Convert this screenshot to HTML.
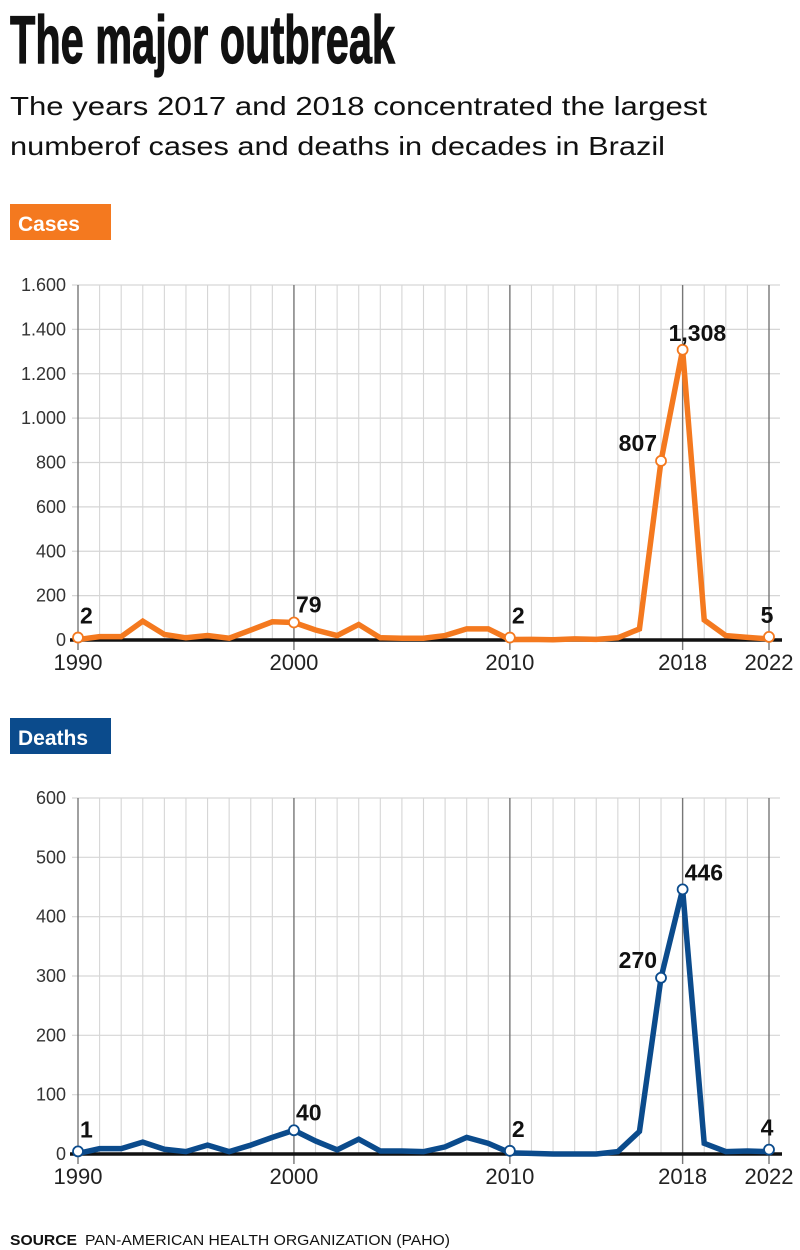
<!DOCTYPE html>
<html><head><meta charset="utf-8"><style>
html,body{margin:0;padding:0;background:#fff;}
svg{display:block;font-family:"Liberation Sans",sans-serif;}
</style></head><body>
<svg id="root" width="800" height="1250" viewBox="0 0 800 1250">
<text x="10" y="63" font-family="Liberation Sans Narrow, Liberation Sans, sans-serif" font-weight="bold" font-size="68" textLength="385" lengthAdjust="spacingAndGlyphs" fill="#111" stroke="#111" stroke-width="1.2">The major outbreak</text>
<text x="10" y="115" font-size="26" fill="#111" textLength="697" lengthAdjust="spacingAndGlyphs">The years 2017 and 2018 concentrated the largest</text>
<text x="10" y="155" font-size="26" fill="#111" textLength="655" lengthAdjust="spacingAndGlyphs">numberof cases and deaths in decades in Brazil</text>
<g id="c1"></g>
<g id="c2"></g>
<text x="10" y="1245" font-size="15" font-weight="bold" fill="#111" textLength="67" lengthAdjust="spacingAndGlyphs">SOURCE</text>
<text x="85" y="1245" font-size="15" fill="#111" textLength="365" lengthAdjust="spacingAndGlyphs">PAN-AMERICAN HEALTH ORGANIZATION (PAHO)</text>
</svg>
<script>
const years = [];
for (let y = 1990; y <= 2022; y++) years.push(y);
const casesValues = [2,15,15,85,25,10,20,8,45,82,79,45,20,70,10,8,8,20,50,50,2,3,1,5,3,10,50,807,1308,90,20,12,5];
const deathsValues = [1,9,9,20,8,4,15,4,15,28,40,22,7,25,5,5,4,12,28,18,2,1,0,0,0,4,38,297,446,18,4,5,4];
const xTickYears = [1990,2000,2010,2018,2022];
const casesTicks = [0,200,400,600,800,1000,1200,1400,1600];
const casesTickLabels = ["0","200","400","600","800","1.000","1.200","1.400","1.600"];
const deathsTicks = [0,100,200,300,400,500,600];
const casesAnnYears = [1990,2000,2010,2017,2018,2022];
const casesAnnLabels = ["2","79","2","807","1,308","5"];
const deathsAnnYears = [1990,2000,2010,2017,2018,2022];
const deathsAnnLabels = ["1","40","2","270","446","4"];
</script>
<script>
const NS = "http://www.w3.org/2000/svg";
function mk(parent, tag, attrs, text){
  const e = document.createElementNS(NS, tag);
  for (const k in attrs) e.setAttribute(k, attrs[k]);
  if (text !== undefined) e.textContent = text;
  parent.appendChild(e); return e;
}
function xs(y){ return 78 + (y - 1990) * (769 - 78) / 32; }
function build(g, opt){
  const ys = v => opt.base - v * (opt.base - opt.top) / opt.max;
  const b = mk(g,'rect',{x:10,y:opt.badgeY,width:101,height:36,fill:opt.color});
  
  
  const bt = mk(g,'text',{x:18,y:opt.badgeY+27,'font-size':21,'font-weight':'bold',fill:'#fff'},opt.label);
  
  
  opt.ticks.forEach((t,i)=>{
    const l = mk(g,'line',{x1:72,x2:780,y1:ys(t),y2:ys(t),stroke:'#d6d6d6','stroke-width':1.2});
    
    
    const tx = mk(g,'text',{x:66,y:ys(t)+6,'text-anchor':'end','font-size':18,fill:'#333'},opt.tickLabels[i]);
    
    
  });
  years.forEach(y=>{
    const major = xTickYears.includes(y);
    const l = mk(g,'line',{x1:xs(y),x2:xs(y),y1:opt.top,y2:major?opt.base+10:opt.base,stroke:major?'#777':'#d6d6d6','stroke-width':major?1.4:1.1});
    
    
  });
  xTickYears.forEach(y=>{
    const tx = mk(g,'text',{x:xs(y),y:opt.base+30,'text-anchor':'middle','font-size':22,fill:'#222'},String(y));
    
    
  });
  const ax = mk(g,'line',{x1:70,x2:782,y1:opt.base,y2:opt.base,stroke:'#111','stroke-width':3.5});
  
  
  const pts = opt.values.map((v,i)=>xs(years[i])+','+ys(v)).join(' ');
  const pl = mk(g,'polyline',{points:pts,fill:'none',stroke:opt.color,'stroke-width':5.5,'stroke-linejoin':'miter'});
  
  
  opt.annYears.forEach((y,i)=>{
    const v = opt.values[y-1990];
    const cx = xs(y), cy = ys(v) - (v < opt.max*0.02 ? 2 : 0);
    const c = mk(g,'circle',{cx:cx,cy:cy,r:5,fill:'#fff',stroke:opt.color,'stroke-width':1.8});
    
    
    let tx = cx+2, ty = cy-14, anchor='start';
    if (y===2017){ tx = cx-4; ty = cy-10; anchor='end'; }
    if (y===2018){ tx = opt.name==='cases' ? cx-14 : cx+2; ty = cy-9; }
    if (y===2022){ tx = cx-2; ty = cy-14; anchor='middle'; }
    if (y===2000){ tx = cx+2; ty = cy-10; }
    const t = mk(g,'text',{x:tx,y:ty,'text-anchor':anchor,'font-size':23,'font-weight':'bold',fill:'#111'},opt.annLabels[i]);
    
    
  });
}
build(document.getElementById('c1'),{name:'cases',label:'Cases',color:'#f4791f',badgeY:204,top:285,base:640,max:1600,ticks:casesTicks,tickLabels:casesTickLabels,values:casesValues,annYears:casesAnnYears,annLabels:casesAnnLabels});
build(document.getElementById('c2'),{name:'deaths',label:'Deaths',color:'#0b4b8c',badgeY:718,top:798,base:1154,max:600,ticks:deathsTicks,tickLabels:deathsTicks.map(String),values:deathsValues,annYears:deathsAnnYears,annLabels:deathsAnnLabels});
</script>
</body></html>
